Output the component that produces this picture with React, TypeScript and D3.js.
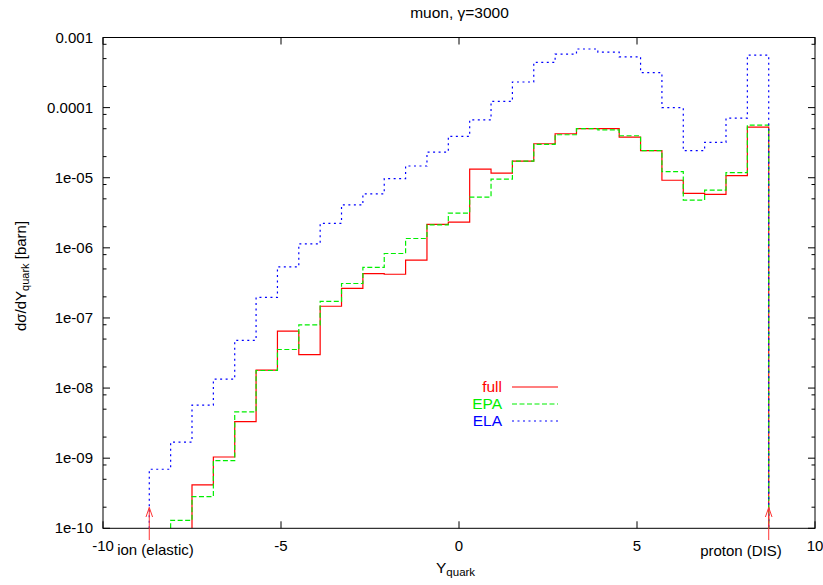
import React from "react";
import * as d3 from "d3";

// Bin edges in Y_quark (29 bins)
const binEdges = [
  -8.7, -8.1, -7.5, -6.9, -6.3, -5.7, -5.1, -4.5, -3.9, -3.3, -2.7, -2.1, -1.5, -0.9, -0.3,
  0.3, 0.9, 1.5, 2.1, 2.7, 3.3, 3.9, 4.5, 5.1, 5.7, 6.3, 6.9, 7.5, 8.1, 8.7,
];

const fullValues: (number | null)[] = [
  null, null, 4.15e-10, 1.04e-9, 3.33e-9, 1.8e-8, 6.5e-8, 3.0e-8, 1.47e-7, 2.64e-7,
  4.3e-7, 4.2e-7, 6.7e-7, 2.16e-6, 2.33e-6, 1.33e-5, 1.16e-5, 1.73e-5, 3.05e-5, 4.24e-5,
  5.0e-5, 5.0e-5, 3.8e-5, 2.43e-5, 9.2e-6, 5.97e-6, 5.78e-6, 1.07e-5, 5.28e-5,
];

const epaValues: (number | null)[] = [
  null, 1.3e-10, 2.83e-10, 9.25e-10, 4.57e-9, 1.78e-8, 3.55e-8, 7.96e-8, 1.72e-7, 3.1e-7,
  5.25e-7, 8.3e-7, 1.36e-6, 2.13e-6, 3.13e-6, 5.3e-6, 9.57e-6, 1.73e-5, 3.0e-5, 4.1e-5,
  5.0e-5, 4.8e-5, 3.97e-5, 2.43e-5, 1.22e-5, 4.8e-6, 6.67e-6, 1.18e-5, 5.64e-5,
];

const elaValues: (number | null)[] = [
  6.95e-10, 1.7e-9, 5.7e-9, 1.34e-8, 4.8e-8, 1.96e-7, 5.36e-7, 1.14e-6, 2.23e-6, 4.1e-6,
  5.9e-6, 9.7e-6, 1.47e-5, 2.32e-5, 3.89e-5, 6.7e-5, 1.23e-4, 2.32e-4, 4.43e-4, 5.8e-4,
  6.86e-4, 6.2e-4, 5.3e-4, 3.15e-4, 1.0e-4, 2.43e-5, 3.19e-5, 7.06e-5, 5.6e-4,
];

const xTicks = [-10, -5, 0, 5, 10];
const yTicks = [1e-10, 1e-9, 1e-8, 1e-7, 1e-6, 1e-5, 1e-4, 1e-3];
const yTickLabels = ["1e-10", "1e-09", "1e-08", "1e-07", "1e-06", "1e-05", "0.0001", "0.001"];
const minorMultipliers = [2, 5, 8];

const seriesNames = ["full", "EPA", "ELA"];
const seriesColors = ["#ff0000", "#00ee00", "#0000ff"];
const seriesDash = ["none", "5,2.5", "2,3.5"];

const arrowYs = [-8.7, 8.7];
const arrowLabels = ["ion (elastic)", "proton (DIS)"];

const W = 823;
const H = 585;
const left = 103;
const right = 815;
const top = 37.5;
const bottom = 528.3;
const FONT = "'Liberation Sans', Arial, Helvetica, sans-serif";

export default function App() {
  const x = d3.scaleLinear().domain([-10, 10]).range([left, right]);
  const y = d3.scaleLog().domain([1e-10, 1e-3]).range([bottom, top]);
  const floor = 1e-10;

  const makePath = (vals: (number | null)[]) => {
    const i0 = vals.findIndex((v) => v !== null);
    const pts: [number, number][] = [[binEdges[i0], floor]];
    for (let i = i0; i < vals.length; i++) pts.push([binEdges[i], vals[i] as number]);
    pts.push([binEdges[vals.length], vals[vals.length - 1] as number]);
    pts.push([binEdges[vals.length], floor]);
    const line = d3
      .line<[number, number]>()
      .x((d) => x(d[0]))
      .y((d) => y(d[1]))
      .curve(d3.curveStepAfter);
    return line(pts) || "";
  };

  const allSeries = [fullValues, epaValues, elaValues];

  const minorTicks: number[] = [];
  for (let k = 0; k < yTicks.length - 1; k++) {
    for (const m of minorMultipliers) minorTicks.push(yTicks[k] * m);
  }

  const legendX = 502;
  const legendY0 = 387;
  const legendDy = 17;

  return (
    <svg
      width={W}
      height={H}
      style={{ position: "absolute", left: 0, top: 0, background: "#fff" }}
      fontFamily={FONT}
    >
      <rect x={0} y={0} width={W} height={H} fill="#fff" />
      <defs>
        <clipPath id="plotclip">
          <rect x={left} y={top} width={right - left} height={bottom - top} />
        </clipPath>
      </defs>

      {/* Title */}
      <text x={459.5} y={18} textAnchor="middle" fontSize={15.5} fill="#000">
        muon, γ=3000
      </text>

      {/* Y ticks */}
      {yTicks.map((t, i) => (
        <g key={"yt" + i}>
          <line x1={left} x2={left + 7} y1={y(t)} y2={y(t)} stroke="#000" strokeWidth={1} />
          <line x1={right} x2={right - 7} y1={y(t)} y2={y(t)} stroke="#000" strokeWidth={1} />
          <text x={93} y={y(t) + 5} textAnchor="end" fontSize={15} fill="#000">
            {yTickLabels[i]}
          </text>
        </g>
      ))}
      {minorTicks.map((t, i) => (
        <g key={"ym" + i}>
          <line x1={left} x2={left + 3.5} y1={y(t)} y2={y(t)} stroke="#000" strokeWidth={1} />
          <line x1={right} x2={right - 3.5} y1={y(t)} y2={y(t)} stroke="#000" strokeWidth={1} />
        </g>
      ))}

      {/* X ticks */}
      {xTicks.map((t, i) => (
        <g key={"xt" + i}>
          <line x1={x(t)} x2={x(t)} y1={bottom} y2={bottom - 7} stroke="#000" strokeWidth={1} />
          <line x1={x(t)} x2={x(t)} y1={top} y2={top + 7} stroke="#000" strokeWidth={1} />
          <text x={x(t)} y={551} textAnchor="middle" fontSize={15} fill="#000">
            {String(t)}
          </text>
        </g>
      ))}

      {/* Series */}
      <g clipPath="url(#plotclip)">
        {allSeries.map((vals, i) => (
          <path
            key={"s" + i}
            d={makePath(vals)}
            fill="none"
            stroke={seriesColors[i]}
            strokeWidth={1.2}
            strokeDasharray={seriesDash[i]}
          />
        ))}
      </g>

      {/* Border */}
      <rect
        x={left}
        y={top}
        width={right - left}
        height={bottom - top}
        fill="none"
        stroke="#000"
        strokeWidth={1}
      />

      {/* Arrows */}
      {arrowYs.map((a, i) => {
        const ax = x(a);
        return (
          <g key={"ar" + i} stroke="#ff3333" strokeWidth={1} fill="none">
            <line x1={ax} x2={ax} y1={540} y2={507.5} />
            <path d={`M${ax - 3.3},${517} L${ax},${507.5} L${ax + 3.3},${517}`} />
          </g>
        );
      })}
      <text x={155.5} y={555} textAnchor="middle" fontSize={15} fill="#000">
        {arrowLabels[0]}
      </text>
      <text x={741} y={556} textAnchor="middle" fontSize={15} fill="#000">
        {arrowLabels[1]}
      </text>

      {/* Legend */}
      {seriesNames.map((n, i) => (
        <g key={"lg" + i}>
          <text
            x={legendX}
            y={legendY0 + i * legendDy + 5}
            textAnchor="end"
            fontSize={15.5}
            fill={seriesColors[i]}
          >
            {n}
          </text>
          <line
            x1={512}
            x2={558}
            y1={legendY0 + i * legendDy}
            y2={legendY0 + i * legendDy}
            stroke={seriesColors[i]}
            strokeWidth={1.2}
            strokeDasharray={seriesDash[i]}
          />
        </g>
      ))}

      {/* X label */}
      <text x={436} y={573} fontSize={15.5} fill="#000">
        Y
        <tspan fontSize={11.5} dy={3}>
          quark
        </tspan>
      </text>

      {/* Y label */}
      <text
        transform={`translate(26,276) rotate(-90)`}
        textAnchor="middle"
        fontSize={15}
        fill="#000"
      >
        dσ/dY
        <tspan fontSize={11} dy={3}>
          quark
        </tspan>
        <tspan dy={-3}> [barn]</tspan>
      </text>
    </svg>
  );
}
